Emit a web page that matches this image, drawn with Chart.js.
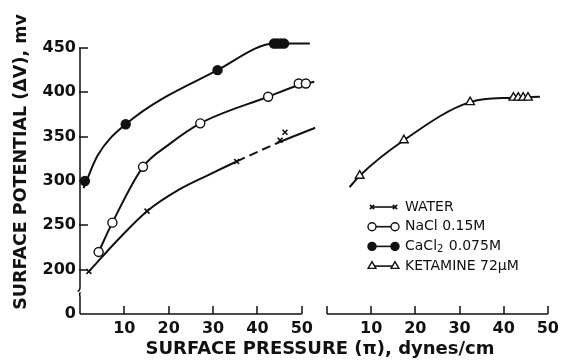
<!DOCTYPE html>
<html>
<head>
<meta charset="utf-8">
<script src="https://cdn.jsdelivr.net/npm/chart.js@4.4.1/dist/chart.umd.min.js"></script>
<style>
  html, body { margin: 0; padding: 0; background: #fff; }
  #wrap { position: relative; width: 564px; height: 360px; overflow: hidden; background: #fff; }
  canvas { position: absolute; top: 0; }
  #left { left: 0; }
  #right { left: 318px; }
  .axtitle { position: absolute; font-family: "DejaVu Sans", sans-serif; font-weight: bold; color: #111; white-space: nowrap; text-align: center; }
  #xtitle { left: 120px; width: 400px; top: 338px; font-size: 18px; line-height: 20px; }
  #ytitle { left: -130px; width: 300px; top: 152px; height: 20px; font-size: 17.5px; line-height: 20px; transform: rotate(-90deg); }
</style>
</head>
<body>
<div id="wrap">
  <canvas id="left" width="318" height="360"></canvas>
  <canvas id="right" width="246" height="360"></canvas>
  <div class="axtitle" id="ytitle">SURFACE POTENTIAL (ΔV), mv</div>
  <div class="axtitle" id="xtitle">SURFACE PRESSURE (π), dynes/cm</div>
</div>
<script>
// ---- data ----
const seriesNames = ['WATER', 'NaCl 0.15M', 'CaCl₂ 0.075M', 'KETAMINE 72μM'];

// measured points (markers)
const waterX = [2.0, 15.1, 35.3, 45.1, 46.2];
const waterY = [198, 266, 322, 346, 355];
const naclX = [4.2, 7.3, 14.2, 27.1, 42.4, 49.3, 50.9];
const naclY = [220, 253, 316, 365, 395, 410, 410];
const caclX = [1.1, 10.3, 31.0, 43.7, 44.4, 45.2, 46.0];
const caclY = [300, 364, 425, 455, 455, 455, 455];
const ketX = [7.4, 17.4, 32.4, 42.2, 43.3, 44.4, 45.5];
const ketY = [306, 346, 389, 394, 394, 394, 394];

// hand-drawn fitted curves
const waterCurveX = [2.0, 8.5, 15.1, 22.2, 29.0, 35.3, 45.0, 53.0];
const waterCurveY = [198, 233.5, 266, 290, 307, 322, 344, 360];
const naclCurveX = [4.2, 7.3, 14.2, 20.0, 27.1, 42.4, 49.3, 52.8];
const naclCurveY = [220, 253, 316, 341, 365, 395, 408, 412];
const caclCurveX = [0.8, 4.0, 10.3, 31.0, 44.0, 51.8];
const caclCurveY = [292, 329, 364, 425, 455, 455];
const ketCurveX = [5.1, 7.4, 17.4, 32.4, 42.0, 48.2];
const ketCurveY = [293, 306, 346, 389, 394, 395];

// axes
const yTickValues = [200, 250, 300, 350, 400, 450];
const yBottomValue = 150;   // axis is broken: this position is labelled "0"
const yBottomLabel = '0';
const yTop = 450;
const xTicksLeft = [10, 20, 30, 40, 50];
const xTicksRight = [10, 20, 30, 40, 50];

const ink = '#111';
const tickFont = { family: 'DejaVu Sans', weight: 'bold', size: 16 };

function pts(xs, ys) {
  return xs.map((x, i) => ({ x: x, y: ys[i] }));
}

const markerStyles = [
  { pointStyle: 'crossRot', radius: 3.5, fill: ink, borderWidth: 1.6 },
  { pointStyle: 'circle', radius: 4.5, fill: '#fff', borderWidth: 1.4 },
  { pointStyle: 'circle', radius: 4.5, fill: ink, borderWidth: 1.4 },
  { pointStyle: 'triangle', radius: 5, fill: '#fff', borderWidth: 1.4 },
];

function curve(xs, ys, extra) {
  return Object.assign({
    type: 'line',
    data: pts(xs, ys),
    borderColor: ink,
    borderWidth: 2,
    pointRadius: 0,
    cubicInterpolationMode: 'monotone',
    clip: false,
    order: 2,
  }, extra || {});
}

function markers(xs, ys, k) {
  const m = markerStyles[k];
  return {
    type: 'line',
    label: seriesNames[k],
    data: pts(xs, ys),
    showLine: false,
    pointStyle: m.pointStyle,
    pointRadius: m.radius,
    pointBackgroundColor: m.fill,
    pointBorderColor: ink,
    pointBorderWidth: m.borderWidth,
    clip: false,
    order: 1,
  };
}

// axis lines with inward ticks and the y-axis break
const axisPlugin = {
  id: 'axisLines',
  afterDraw(chart, args, opts) {
    const { ctx, chartArea: a, scales } = chart;
    ctx.save();
    ctx.strokeStyle = ink;
    ctx.lineWidth = 1.5;
    ctx.beginPath();
    ctx.moveTo(a.left, a.bottom);
    ctx.lineTo(a.right, a.bottom);
    opts.xMarks.forEach(v => {
      const x = Math.round(scales.x.getPixelForValue(v));
      ctx.moveTo(x, a.bottom);
      ctx.lineTo(x, a.bottom - 8);
    });
    if (opts.yAxis) {
      const y = scales.y;
      const b1 = y.getPixelForValue(180), b2 = y.getPixelForValue(171);
      ctx.moveTo(a.left, a.top);
      ctx.lineTo(a.left, b1);
      ctx.quadraticCurveTo(a.left, b1 + 3, a.left - 2.5, b1 + 4);
      ctx.moveTo(a.left + 0.5, b2 - 3);
      ctx.quadraticCurveTo(a.left - 1, b2 - 2, a.left, b2 + 1);
      ctx.lineTo(a.left, a.bottom);
      yTickValues.forEach(v => {
        const yy = Math.round(y.getPixelForValue(v));
        ctx.moveTo(a.left - 1, yy);
        ctx.lineTo(a.left + 8, yy);
      });
    }
    ctx.stroke();
    ctx.restore();
  }
};

// key drawn inside the right panel
const keyPlugin = {
  id: 'keyBox',
  afterDraw(chart, args, opts) {
    const ctx = chart.ctx;
    ctx.save();
    seriesNames.forEach((name, i) => {
      const y = opts.y + i * opts.gap;
      const m = markerStyles[i];
      ctx.strokeStyle = ink;
      ctx.lineWidth = 1.6;
      ctx.beginPath();
      ctx.moveTo(opts.x1, y);
      ctx.lineTo(opts.x2, y);
      ctx.stroke();
      [opts.x1, opts.x2].forEach(x => {
        ctx.fillStyle = m.fill;
        ctx.strokeStyle = ink;
        ctx.lineWidth = m.borderWidth;
        Chart.helpers.drawPoint(ctx, { pointStyle: m.pointStyle, radius: m.radius - 0.5, rotation: 0, borderWidth: m.borderWidth }, x, y);
      });
      ctx.fillStyle = ink;
      ctx.textBaseline = 'middle';
      ctx.textAlign = 'left';
      const big = '14px "DejaVu Sans"';
      const small = '10px "DejaVu Sans"';
      const parts = name.split('₂');
      let x = opts.x2 + 10;
      ctx.font = big;
      ctx.fillText(parts[0], x, y);
      x += ctx.measureText(parts[0]).width;
      if (parts.length > 1) {
        ctx.font = small;
        ctx.fillText('2', x, y + 3);
        x += ctx.measureText('2').width + 1;
        ctx.font = big;
        ctx.fillText(parts[1], x, y);
      }
    });
    ctx.restore();
  }
};

const commonX = (ticks) => ({
  type: 'linear',
  min: 0,
  max: 50,
  grid: { display: false, drawTicks: false },
  border: { display: false },
  ticks: { font: tickFont, color: ink, padding: 5, maxRotation: 0 },
  afterBuildTicks: s => { s.ticks = ticks.map(v => ({ value: v })); },
  afterFit: s => { s.height = 46; },
});

new Chart(document.getElementById('left'), {
  data: {
    datasets: [
      curve(waterCurveX, waterCurveY, {
        segment: { borderDash: c => (c.p0.parsed.x >= 35 && c.p1.parsed.x <= 45.5) ? [9, 5] : undefined }
      }),
      markers(waterX, waterY, 0),
      curve(naclCurveX, naclCurveY),
      markers(naclX, naclY, 1),
      curve(caclCurveX, caclCurveY),
      markers(caclX, caclY, 2),
    ]
  },
  plugins: [axisPlugin],
  options: {
    animation: false,
    responsive: false,
    devicePixelRatio: 1,
    layout: { padding: { left: 0, right: 13, top: 48, bottom: 0 } },
    plugins: {
      legend: { display: false },
      tooltip: { enabled: false },
      axisLines: { xMarks: xTicksLeft, yAxis: true },
    },
    scales: {
      x: commonX(xTicksLeft),
      y: {
        type: 'linear',
        min: yBottomValue,
        max: yTop,
        grid: { display: false, drawTicks: false },
        border: { display: false },
        ticks: {
          font: tickFont, color: ink, padding: 4,
          callback: v => v === yBottomValue ? yBottomLabel : String(v),
        },
        afterBuildTicks: s => { s.ticks = [yBottomValue].concat(yTickValues).map(v => ({ value: v })); },
        afterFit: s => { s.width = 80; },
      }
    }
  }
});

new Chart(document.getElementById('right'), {
  data: {
    datasets: [
      curve(ketCurveX, ketCurveY),
      markers(ketX, ketY, 3),
    ]
  },
  plugins: [axisPlugin, keyPlugin],
  options: {
    animation: false,
    responsive: false,
    devicePixelRatio: 1,
    layout: { padding: { left: 9, right: 13, top: 48, bottom: 0 } },
    plugins: {
      legend: { display: false },
      tooltip: { enabled: false },
      axisLines: { xMarks: [0].concat(xTicksRight), yAxis: false },
      keyBox: { x1: 54, x2: 77, y: 207, gap: 19.7 },
    },
    scales: {
      x: commonX(xTicksRight),
      y: { type: 'linear', min: yBottomValue, max: yTop, display: false },
    }
  }
});
</script>
</body>
</html>
